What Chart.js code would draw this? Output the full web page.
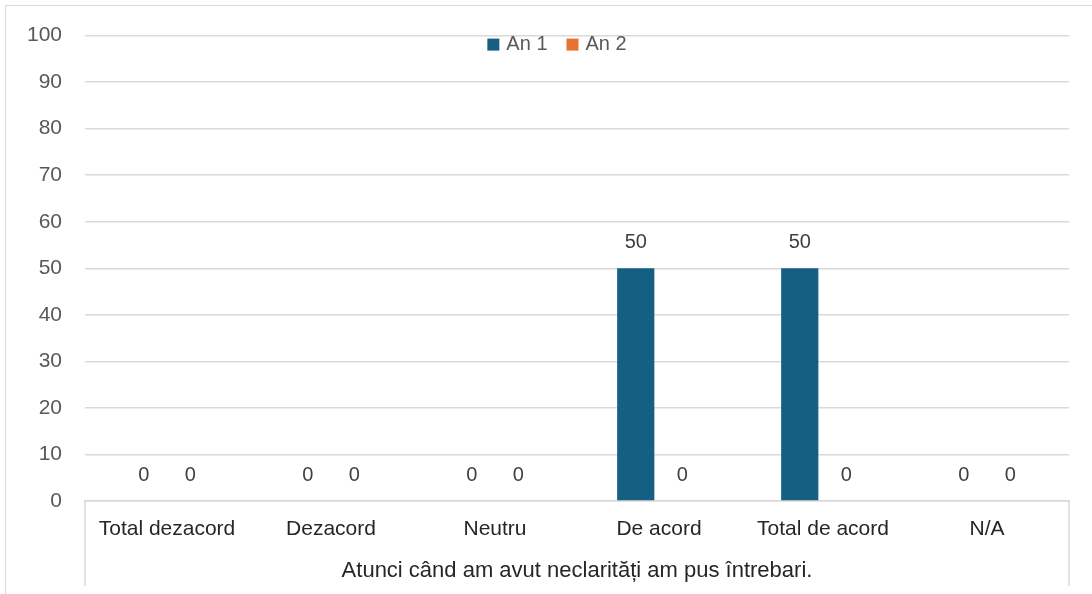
<!DOCTYPE html>
<html>
<head>
<meta charset="utf-8">
<script src="https://cdn.jsdelivr.net/npm/chart.js@4"></script>
<style>
  body { margin: 0; background: #fff; }
  #wrap { position: relative; width: 1092px; height: 594px; overflow: hidden; }
  #frame { position: absolute; left: 5px; top: 5px; width: 1100px; height: 700px; border: 1px solid #d9d9d9; }
  canvas { position: absolute; left: 0; top: 0; }
</style>
</head>
<body>
<div id="wrap">
  <div id="frame"></div>
  <canvas id="chart" width="1092" height="594"></canvas>
</div>
<script>
const categories = ['Total dezacord', 'Dezacord', 'Neutru', 'De acord', 'Total de acord', 'N/A'];
const an1 = [0, 0, 0, 50, 50, 0];
const an2 = [0, 0, 0, 0, 0, 0];
const groupLabel = 'Atunci când am avut neclarități am pus întrebari.';

const fontName = '"Liberation Sans", Arial, sans-serif';

// value labels above each bar
const valueLabels = {
  id: 'valueLabels',
  afterDatasetsDraw(chart) {
    const ctx = chart.ctx;
    ctx.save();
    ctx.font = '20px ' + fontName;
    ctx.fillStyle = '#404040';
    ctx.textAlign = 'center';
    ctx.textBaseline = 'middle';
    chart.data.datasets.forEach((ds, i) => {
      chart.getDatasetMeta(i).data.forEach((bar, j) => {
        ctx.fillText(String(ds.data[j]), bar.x, bar.y - 26);
      });
    });
    ctx.restore();
  }
};

// legend drawn inside the plot area, near the top
const innerLegend = {
  id: 'innerLegend',
  afterDraw(chart) {
    const { ctx, chartArea } = chart;
    const box = 12, gapText = 7, gapItem = 19;
    ctx.save();
    ctx.font = '20px ' + fontName;
    ctx.textBaseline = 'middle';
    const items = chart.data.datasets.map(ds => ({ text: ds.label, color: ds.backgroundColor, w: ctx.measureText(ds.label).width }));
    let total = 0;
    items.forEach((it, i) => { total += box + gapText + it.w + (i ? gapItem : 0); });
    let x = (chartArea.left + chartArea.right) / 2 - 20 - total / 2;
    const y = chartArea.top + 9;
    items.forEach((it, i) => {
      if (i) x += gapItem;
      ctx.fillStyle = it.color;
      ctx.fillRect(x, y - box / 2, box, box);
      x += box + gapText;
      ctx.fillStyle = '#595959';
      ctx.fillText(it.text, x, y);
      x += it.w;
    });
    ctx.restore();
  }
};

// multi-level axis box lines
const axisBox = {
  id: 'axisBox',
  afterDraw(chart) {
    const { ctx, chartArea } = chart;
    ctx.save();
    ctx.strokeStyle = '#d9d9d9';
    ctx.lineWidth = 1.5;
    ctx.beginPath();
    ctx.moveTo(chartArea.left, chartArea.bottom);
    ctx.lineTo(chartArea.left, 586);
    ctx.moveTo(chartArea.right, chartArea.bottom);
    ctx.lineTo(chartArea.right, 586);
    ctx.stroke();
    ctx.restore();
  }
};

new Chart(document.getElementById('chart').getContext('2d'), {
  type: 'bar',
  data: {
    labels: categories,
    datasets: [
      { label: 'An 1', data: an1, backgroundColor: '#156082' },
      { label: 'An 2', data: an2, backgroundColor: '#E97132' }
    ]
  },
  options: {
    responsive: false,
    animation: false,
    layout: { padding: { left: 0, right: 23, top: 34, bottom: 0 } },
    datasets: { bar: { barPercentage: 0.8, categoryPercentage: 0.567 } },
    plugins: {
      legend: { display: false },
      tooltip: { enabled: false }
    },
    scales: {
      x: {
        grid: { display: false },
        border: { display: true, color: '#d9d9d9', width: 1.5 },
        ticks: { color: '#262626', padding: 8, font: { family: fontName, size: 21 }, maxRotation: 0, autoSkip: false },
        title: {
          display: true, text: groupLabel, color: '#262626',
          font: { family: fontName, size: 22 },
          padding: { top: 10, bottom: 10 }
        },
        afterFit(scale) { scale.height = 93; }
      },
      y: {
        min: 0, max: 100,
        grid: { color: '#d9d9d9', lineWidth: 1.5, drawTicks: false },
        border: { display: false },
        ticks: { stepSize: 10, color: '#595959', padding: 23, font: { family: fontName, size: 21 } },
        afterFit(scale) { scale.width = 85; }
      }
    }
  },
  plugins: [valueLabels, innerLegend, axisBox]
});
</script>
</body>
</html>
